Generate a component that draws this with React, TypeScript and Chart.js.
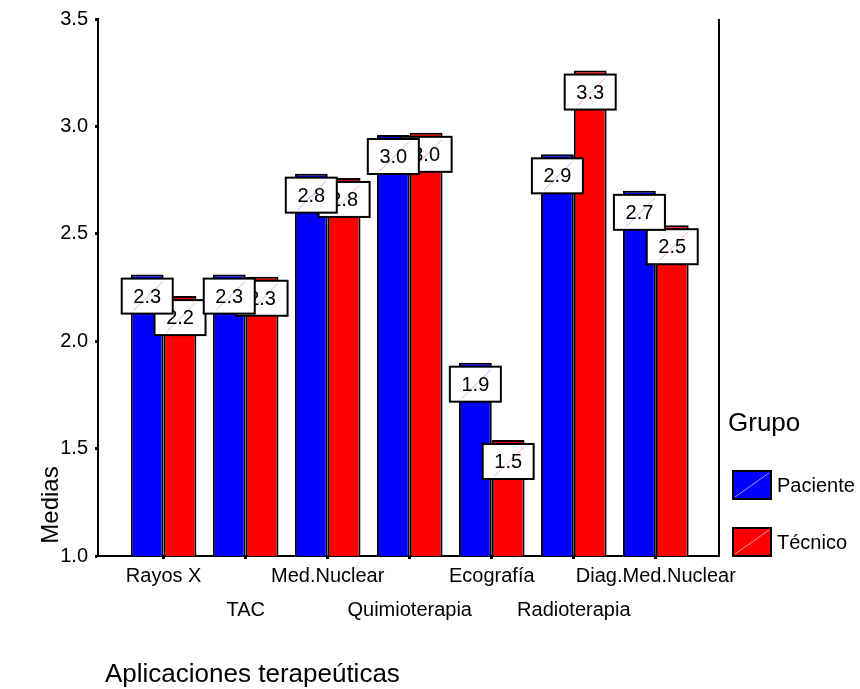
import React, { useEffect, useRef } from "react";
import { Chart, registerables } from "chart.js";

Chart.register(...registerables);

const categories = ["Rayos X", "TAC", "Med.Nuclear", "Quimioterapia", "Ecografía", "Radioterapia", "Diag.Med.Nuclear"];
const paciente = [2.31, 2.31, 2.78, 2.96, 1.9, 2.87, 2.7];
const tecnico = [2.21, 2.3, 2.76, 2.97, 1.54, 3.26, 2.54];
const seriesNames = ["Paciente", "Técnico"];
const seriesColors = ["#0000ff", "#ff0000"];
const seriesDiag = ["rgba(170,170,255,0.9)", "rgba(255,170,170,0.9)"];
const yTickValues = [1.0, 1.5, 2.0, 2.5, 3.0, 3.5];
const yTickLabels = ["1.0", "1.5", "2.0", "2.5", "3.0", "3.5"];
const xAxisTitle = "Aplicaciones terapeúticas";
const yAxisTitle = "Medias";
const legendTitle = "Grupo";

const FONT = "Arial, 'Liberation Sans', sans-serif";

const labelPlugin = {
  id: "barLabels",
  afterDatasetsDraw(chart: any) {
    const ctx = chart.ctx;
    ctx.save();
    [1, 0].forEach((di) => {
      const meta = chart.getDatasetMeta(di);
      const values = chart.data.datasets[di].data;
      meta.data.forEach((bar: any, i: number) => {
        const v = values[i].y;
        const w = 51;
        const h = 35;
        const x0 = bar.x - w / 2;
        const y0 = bar.y + 4;
        ctx.fillStyle = "#ffffff";
        ctx.fillRect(x0, y0, w, h);
        ctx.strokeStyle = seriesDiag[di];
        ctx.lineWidth = 1;
        ctx.beginPath();
        ctx.moveTo(x0 + 12, y0 + h - 3);
        ctx.lineTo(x0 + w - 10, y0 + 3);
        ctx.stroke();
        ctx.strokeStyle = "#000";
        ctx.lineWidth = 2;
        ctx.strokeRect(x0, y0, w, h);
        ctx.fillStyle = "#000";
        ctx.font = `20px ${FONT}`;
        ctx.textAlign = "center";
        ctx.textBaseline = "middle";
        ctx.fillText(v.toFixed(1), bar.x, y0 + h / 2 + 1);
      });
    });
    ctx.restore();
  },
};

const framePlugin = {
  id: "frameLegend",
  afterDraw(chart: any) {
    const ctx = chart.ctx;
    const a = chart.chartArea;
    ctx.save();
    // right frame
    ctx.strokeStyle = "#000";
    ctx.lineWidth = 2;
    ctx.beginPath();
    ctx.moveTo(a.right, a.top);
    ctx.lineTo(a.right, a.bottom + 1);
    ctx.stroke();

    // axis titles
    ctx.fillStyle = "#000";
    ctx.font = `26px ${FONT}`;
    ctx.textAlign = "left";
    ctx.textBaseline = "alphabetic";
    ctx.fillText(xAxisTitle, a.left + 7, a.bottom + 126);

    ctx.save();
    ctx.font = `24px ${FONT}`;
    ctx.translate(a.left - 47, a.bottom - 51);
    ctx.rotate(-Math.PI / 2);
    ctx.textAlign = "center";
    ctx.textBaseline = "middle";
    ctx.fillText(yAxisTitle, 0, 0);
    ctx.restore();

    // legend
    const lx = a.right + 9;
    ctx.font = `26px ${FONT}`;
    ctx.textAlign = "left";
    ctx.textBaseline = "middle";
    ctx.fillText(legendTitle, lx, a.bottom - 132);
    const boxTops = [a.bottom - 85, a.bottom - 28];
    seriesNames.forEach((name, i) => {
      const bx = a.right + 14;
      const by = boxTops[i];
      ctx.fillStyle = seriesColors[i];
      ctx.fillRect(bx, by, 38, 28);
      ctx.strokeStyle = seriesDiag[i];
      ctx.lineWidth = 1;
      ctx.beginPath();
      ctx.moveTo(bx + 2, by + 26);
      ctx.lineTo(bx + 36, by + 2);
      ctx.stroke();
      ctx.strokeStyle = "#000";
      ctx.lineWidth = 2;
      ctx.strokeRect(bx, by, 38, 28);
      ctx.fillStyle = "#000";
      ctx.font = `20px ${FONT}`;
      ctx.fillText(name, a.right + 58, by + 15);
    });
    ctx.restore();
  },
};

export default function App() {
  const ref = useRef<HTMLCanvasElement | null>(null);
  useEffect(() => {
    if (!ref.current) return;
    const chart = new Chart(ref.current, {
      type: "bar",
      data: {
        datasets: [paciente, tecnico].map((vals, di) => ({
          label: seriesNames[di],
          data: vals.map((v, i) => ({ x: i, y: v })),
          backgroundColor: seriesColors[di],
          borderColor: "#000",
          borderWidth: 2,
          borderSkipped: "bottom",
          barPercentage: 1,
          categoryPercentage: 0.8,
        })),
      },
      options: {
        responsive: false,
        animation: false,
        events: [],
        layout: { padding: { top: 18, right: 141, left: 0, bottom: 0 } },
        plugins: { legend: { display: false }, tooltip: { enabled: false } },
        scales: {
          x: {
            type: "linear",
            offset: false,
            min: -0.8,
            max: 6.77,
            afterFit: (s: any) => {
              s.height = 133;
            },
            afterBuildTicks: (s: any) => {
              s.ticks = categories.map((_, i) => ({ value: i }));
            },
            ticks: {
              autoSkip: false,
              maxRotation: 0,
              padding: 0,
              color: "#000",
              font: { family: FONT, size: 20, lineHeight: 1.7 },
              callback: (v: any) => {
                const i = Math.round(Number(v));
                return i % 2 === 0 ? [categories[i]] : ["", categories[i]];
              },
            },
            grid: { offset: false, drawOnChartArea: false, drawTicks: true, tickLength: 3, tickWidth: 3, tickColor: "#000" },
            border: { display: true, color: "#000", width: 2 },
          },
          y: {
            type: "linear",
            min: 1,
            max: 3.5,
            afterFit: (s: any) => {
              s.width = 98;
            },
            afterBuildTicks: (s: any) => {
              s.ticks = yTickValues.map((v) => ({ value: v }));
            },
            ticks: {
              padding: 7,
              color: "#000",
              font: { family: FONT, size: 20 },
              callback: (_v: any, i: number) => yTickLabels[i],
            },
            grid: { drawOnChartArea: false, drawTicks: true, tickLength: 3, tickWidth: 3, tickColor: "#000" },
            border: { display: true, color: "#000", width: 2 },
          },
        },
      },
      plugins: [labelPlugin, framePlugin],
    });
    return () => chart.destroy();
  }, []);
  return (
    <div style={{ position: "fixed", left: 0, top: 0, width: 860, height: 689, background: "#fff" }}>
      <canvas ref={ref} width={860} height={689} style={{ display: "block" }} />
    </div>
  );
}
